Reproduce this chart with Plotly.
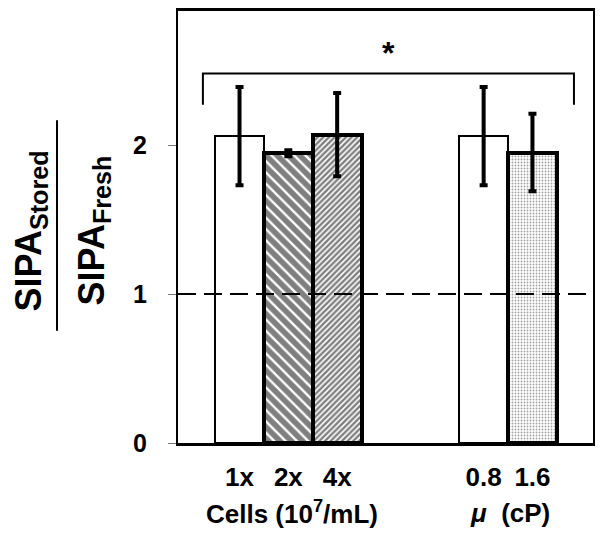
import plotly.graph_objects as go

# ---- data ----
categories = ["1x", "2x", "4x", "0.8", "1.6"]
positions = [0, 1, 2, 5, 6]
values = [2.06, 1.945, 2.07, 2.06, 1.95]
errors = [0.33, 0.02, 0.28, 0.33, 0.26]
y_ticks = [0, 1, 2]
reference_level = 1
bracket_x = [-0.75, 6.85]
bracket_y = 2.48
bracket_leg_y = 2.27

# ---- layout geometry (screen pixels; page body adds an 8px offset) ----
OFF = 8
W, H = 604 - OFF, 540 - OFF
L, R, T, B = 178 - OFF, 11, 8 - OFF, 97
PW, PH = W - L - R, H - T - B


def px_x(px):
    return (px - OFF - L) / PW


def px_y(py):
    return (H - B - (py - OFF)) / PH


FONT = "Liberation Sans, Arial, sans-serif"

fig = go.Figure()
fig.add_trace(go.Bar(
    x=positions, y=values, width=1.0,
    marker=dict(
        color="white",
        line=dict(color="black", width=[2, 4, 4, 2, 4]),
        pattern=dict(
            shape=["", "\\", "/", "", "."],
            fgcolor=["black", "black", "black", "black", "#444444"],
            bgcolor="white",
            size=[8, 8, 4, 8, 3],
            solidity=[0.3, 0.7, 0.6, 0.3, 0.3],
            fillmode="overlay",
        ),
    ),
    error_y=dict(type="data", array=errors, visible=True,
                 color="black", thickness=4, width=4),
    showlegend=False,
))

# dashed reference line
fig.add_shape(type="line", xref="paper", yref="y", x0=0, x1=1,
              y0=reference_level, y1=reference_level,
              line=dict(color="black", width=2, dash="18px,8px"))

# significance bracket
fig.add_shape(type="path", xref="x", yref="y",
              path=f"M {bracket_x[0]},{bracket_leg_y} L {bracket_x[0]},{bracket_y} "
                   f"L {bracket_x[1]},{bracket_y} L {bracket_x[1]},{bracket_leg_y}",
              line=dict(color="black", width=2))
fig.add_annotation(x=(bracket_x[0] + bracket_x[1]) / 2, xref="x",
                   y=px_y(50), yref="paper", text="<b>*</b>", showarrow=False,
                   font=dict(family=FONT, size=32, color="black"),
                   xanchor="center", yanchor="middle")

# y title as a fraction
fig.add_annotation(x=px_x(31), y=px_y(230), xref="paper", yref="paper",
                   text="<b>SIPA<sub>Stored</sub></b>", textangle=-90,
                   showarrow=False, xanchor="center", yanchor="middle",
                   font=dict(family=FONT, size=36, color="black"))
fig.add_annotation(x=px_x(94), y=px_y(229), xref="paper", yref="paper",
                   text="<b>SIPA<sub>Fresh</sub></b>", textangle=-90,
                   showarrow=False, xanchor="center", yanchor="middle",
                   font=dict(family=FONT, size=36, color="black"))
fig.add_shape(type="line", xref="paper", yref="paper",
              x0=px_x(57), x1=px_x(57), y0=px_y(118), y1=px_y(330),
              line=dict(color="black", width=2))

# x group labels
fig.add_annotation(x=1.08, xref="x", y=px_y(513), yref="paper",
                   text="<b>Cells (10<sup>7</sup>/mL)</b>", showarrow=False,
                   xanchor="center", yanchor="middle",
                   font=dict(family=FONT, size=26, color="black"))
fig.add_annotation(x=5.55, xref="x", y=px_y(513), yref="paper",
                   text="<b><i>μ</i>  (cP)</b>", showarrow=False,
                   xanchor="center", yanchor="middle",
                   font=dict(family=FONT, size=26, color="black"))

fig.update_layout(
    width=W, height=H,
    margin=dict(l=L, r=R, t=T, b=B, pad=0),
    paper_bgcolor="white", plot_bgcolor="white",
    bargap=0,
    xaxis=dict(range=[-1.26, 7.24], tickvals=positions, ticktext=categories,
               showline=True, linecolor="black", linewidth=3, mirror=True,
               ticks="", showgrid=False, zeroline=False,
               tickfont=dict(family=FONT, size=26, color="black", weight="bold"),
               ticklabelstandoff=9),
    yaxis=dict(range=[0, 2.9], tickvals=y_ticks,
               showline=True, linecolor="black", linewidth=2, mirror=True,
               ticks="outside", ticklen=8, tickcolor="#777777", tickwidth=1,
               showgrid=False, zeroline=False,
               tickfont=dict(family=FONT, size=25, color="black", weight="bold"),
               ticklabelstandoff=16),
)

fig.write_html("out.html")
